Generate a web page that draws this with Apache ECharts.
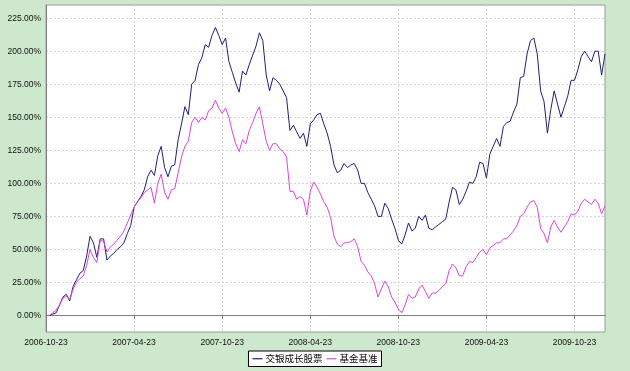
<!DOCTYPE html>
<html>
<head>
<meta charset="utf-8">
<script src="https://cdn.jsdelivr.net/npm/echarts@6/dist/echarts.min.js"></script>
<style>html,body{margin:0;padding:0;background:#cde8cd;}#c{width:630px;height:371px;}</style>
</head>
<body>
<div id="c"></div>
<script>
const categories = [
'2006-10-23','2006-10-30','2006-11-06','2006-11-13','2006-11-20','2006-11-27','2006-12-04','2006-12-11','2006-12-18','2006-12-25','2007-01-01','2007-01-08','2007-01-15','2007-01-22','2007-01-29','2007-02-05','2007-02-12','2007-02-19','2007-02-26','2007-03-05','2007-03-12','2007-03-19','2007-03-26','2007-04-02','2007-04-09','2007-04-16',
'2007-04-23','2007-04-30','2007-05-07','2007-05-14','2007-05-21','2007-05-28','2007-06-04','2007-06-11','2007-06-18','2007-06-25','2007-07-02','2007-07-09','2007-07-16','2007-07-23','2007-07-30','2007-08-06','2007-08-13','2007-08-20','2007-08-27','2007-09-03','2007-09-10','2007-09-17','2007-09-24','2007-10-01','2007-10-08','2007-10-15',
'2007-10-23','2007-10-30','2007-11-06','2007-11-13','2007-11-20','2007-11-27','2007-12-04','2007-12-11','2007-12-18','2007-12-25','2008-01-01','2008-01-08','2008-01-15','2008-01-22','2008-01-29','2008-02-05','2008-02-12','2008-02-19','2008-02-26','2008-03-04','2008-03-11','2008-03-18','2008-03-25','2008-04-01','2008-04-08','2008-04-15',
'2008-04-23','2008-04-30','2008-05-07','2008-05-14','2008-05-21','2008-05-28','2008-06-04','2008-06-11','2008-06-18','2008-06-25','2008-07-02','2008-07-09','2008-07-16','2008-07-23','2008-07-30','2008-08-06','2008-08-13','2008-08-20','2008-08-27','2008-09-03','2008-09-10','2008-09-17','2008-09-24','2008-10-01','2008-10-08','2008-10-15',
'2008-10-23','2008-10-30','2008-11-06','2008-11-13','2008-11-20','2008-11-27','2008-12-04','2008-12-11','2008-12-18','2008-12-25','2009-01-01','2009-01-08','2009-01-15','2009-01-22','2009-01-29','2009-02-05','2009-02-12','2009-02-19','2009-02-26','2009-03-05','2009-03-12','2009-03-19','2009-03-26','2009-04-02','2009-04-09','2009-04-16',
'2009-04-23','2009-04-30','2009-05-07','2009-05-14','2009-05-21','2009-05-28','2009-06-04','2009-06-11','2009-06-18','2009-06-25','2009-07-02','2009-07-09','2009-07-16','2009-07-23','2009-07-30','2009-08-06','2009-08-13','2009-08-20','2009-08-27','2009-09-03','2009-09-10','2009-09-17','2009-09-24','2009-10-01','2009-10-08','2009-10-15',
'2009-10-23','2009-10-30','2009-11-06','2009-11-13','2009-11-20','2009-11-27','2009-12-04','2009-12-11','2009-12-18','2009-12-25'
];
const tickLabels = ['2006-10-23','2007-04-23','2007-10-23','2008-04-23','2008-10-23','2009-04-23','2009-10-23'];
const yTicks = [0, 25, 50, 75, 100, 125, 150, 175, 200, 225];
const fundName = '交银成长股票';
const benchName = '基金基准';
const fundValues = [
0,0,1,2,8,14,16,11,22,27,32,34,45,60,55,44,58,58,42,45,47,50,52,55,62,68,
82,86,90,95,105,110,106,121,128,112,105,113,114,133,145,158,152,175,178,190,195,205,203,212,218,212,
205,210,192,184,176,169,185,182,190,197,204,214,208,182,170,180,178,175,170,165,140,144,139,134,138,128,
145,148,152,153,145,138,128,114,108,110,115,112,114,115,110,100,100,93,88,83,75,75,85,81,73,66,
57,54,61,70,64,66,75,72,76,66,65,67,69,71,73,86,97,95,84,88,94,101,100,105,116,115,
104,122,128,134,128,143,146,147,154,160,180,181,198,208,210,198,170,162,138,156,170,160,150,158,166,178,
178,186,196,200,196,192,200,200,182,198
];
const benchValues = [
0,0,2,4,8,13,15,12,20,25,28,30,38,50,44,40,57,56,48,52,54,57,60,64,70,76,
82,86,89,93,95,97,85,100,107,93,88,95,96,108,120,128,132,146,150,146,150,148,155,157,163,157,
153,157,150,139,130,124,133,130,140,146,153,158,145,132,125,130,130,126,124,120,94,94,88,90,88,76,
94,101,97,92,86,82,74,60,54,52,55,55,56,58,52,41,38,33,30,24,14,20,26,22,14,10,
5,2,8,16,13,14,20,23,18,13,17,17,19,22,24,34,39,36,30,30,37,41,40,44,48,50,
46,51,53,55,55,58,58,61,64,68,75,77,82,86,87,82,66,62,55,67,72,67,63,67,71,77,
76,79,85,88,86,84,88,85,77,83
];

const chart = echarts.init(document.getElementById('c'), null, {renderer: 'canvas'});
const showTick = (idx) => tickLabels.indexOf(categories[idx]) >= 0;
chart.setOption({
  backgroundColor: '#cde8cd',
  animation: false,
  textStyle: {fontFamily: 'Liberation Sans, Arial, sans-serif'},
  grid: {left: 46, right: 25, top: 5, bottom: 39, show: true, backgroundColor: '#ffffff', borderColor: '#9a9a9a', borderWidth: 1},
  legend: {
    top: 351, left: 'center',
    data: [fundName, benchName],
    backgroundColor: '#ffffff', borderColor: '#000000', borderWidth: 1,
    padding: [3, 4], itemGap: 4, itemWidth: 10, itemHeight: 1.2,
    icon: 'rect',
    textStyle: {fontFamily: 'Noto Sans CJK SC', fontSize: 9.5, color: '#000', padding: [0,0,0,-2]}
  },
  xAxis: {
    type: 'category', data: categories, boundaryGap: false,
    axisLine: {lineStyle: {color: '#808080'}},
    axisTick: {show: true, length: 3, interval: (i) => showTick(i), lineStyle: {color: '#808080'}},
    axisLabel: {interval: (i) => showTick(i), color: '#111', fontSize: 8.5, margin: 6},
    splitLine: {show: true, interval: (i) => showTick(i), lineStyle: {color: '#d4d4d4', type: [2, 2]}}
  },
  yAxis: {
    type: 'value', min: -12.5, max: 235,
    axisLine: {show: true, lineStyle: {color: '#808080'}},
    axisTick: {show: false, customValues: yTicks},
    axisLabel: {color: '#111', fontSize: 8.5, margin: 5, customValues: yTicks,
      formatter: (v) => v.toFixed(2) + '%'},
    splitLine: {show: true, lineStyle: {color: '#d4d4d4', type: [2, 2]}}
  },
  series: [
    {name: fundName, type: 'line', data: fundValues, showSymbol: false, symbol: 'none',
      lineStyle: {color: '#20207a', width: 1}, itemStyle: {color: '#20207a'}},
    {name: benchName, type: 'line', data: benchValues, showSymbol: false, symbol: 'none',
      lineStyle: {color: '#dd44dd', width: 1}, itemStyle: {color: '#dd44dd'}}
  ]
});
</script>
</body>
</html>
